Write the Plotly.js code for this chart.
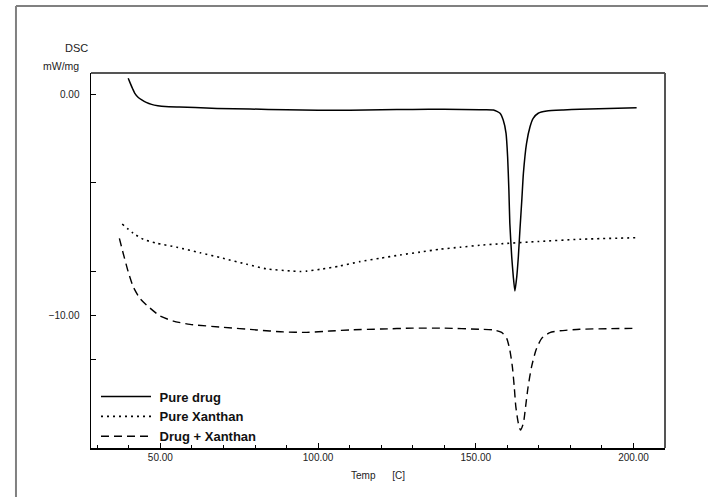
<!DOCTYPE html>
<html>
<head>
<meta charset="utf-8">
<script src="https://cdn.plot.ly/plotly-3.0.1.min.js"></script>
<style>html,body{margin:0;padding:0;background:#fff;}#chart{width:708px;height:497px;}</style>
</head>
<body>
<div id="chart"></div>
<script>
// Pure drug (solid)
const drugT = [39.8,40.5,41.2,41.9,43.0,44.1,45.5,47.2,49.2,51.5,56.0,61.0,68.0,78.4,90,100,110,120,130,140,151.3,155.6,157.7,158.7,159.6,160.1,160.5,160.8,161.4,161.9,162.4,163.0,163.5,164.0,164.6,165.1,166.1,167.2,168.2,169.8,172.5,177.7,183.0,201.0];
const drugV = [0.72,0.48,0.25,0.04,-0.15,-0.26,-0.37,-0.46,-0.52,-0.56,-0.58,-0.60,-0.64,-0.67,-0.70,-0.72,-0.72,-0.70,-0.69,-0.68,-0.70,-0.71,-0.86,-1.17,-1.77,-2.83,-4.33,-5.84,-7.35,-8.25,-8.90,-8.25,-7.35,-6.14,-4.78,-3.58,-2.22,-1.47,-1.09,-0.86,-0.76,-0.71,-0.68,-0.61];
// Pure Xanthan (dotted)
const xanT = [37.9,41.4,44.6,48.8,55.2,62.6,69.9,77.4,83.7,91.1,94.3,96.4,100.6,106.9,113.3,119.6,126.0,132.3,138.7,145.0,151.3,157.1,170,183.0,201.0];
const xanV = [-5.87,-6.29,-6.56,-6.74,-6.92,-7.17,-7.42,-7.69,-7.90,-7.99,-8.02,-8.00,-7.92,-7.77,-7.57,-7.42,-7.27,-7.14,-7.01,-6.92,-6.83,-6.77,-6.66,-6.56,-6.49];
// Drug + Xanthan (dashed)
const mixT = [37.0,38.2,39.8,41.4,43.5,46.2,49.9,54.1,59.4,69.9,80.5,89.0,96.4,103.8,110.1,120,130,140,151.3,155.6,158.2,159.8,160.8,161.6,162.2,162.7,163.5,164.2,165.1,165.8,166.6,167.7,169.1,170.9,173.5,176.7,183.0,201.0];
const mixV = [-6.52,-7.19,-8.03,-8.71,-9.23,-9.61,-10.03,-10.26,-10.41,-10.54,-10.66,-10.75,-10.77,-10.71,-10.66,-10.62,-10.58,-10.58,-10.63,-10.66,-10.77,-11.04,-11.57,-12.32,-13.23,-14.13,-14.88,-15.19,-14.88,-14.13,-13.23,-12.32,-11.57,-11.04,-10.78,-10.70,-10.63,-10.59];

const names = ['Pure drug','Pure Xanthan','Drug + Xanthan'];
const xTicks = [50,100,150,200];
const yTicks = [0,-10];

const FONT = 'Liberation Sans, Arial, sans-serif';

const traces = [
  {x: drugT, y: drugV, name: '&nbsp;' + names[0], mode: 'lines', line: {color: '#000', width: 1.5, shape: 'spline', smoothing: 0.5}},
  {x: xanT, y: xanV, name: '&nbsp;' + names[1], mode: 'lines', line: {color: '#000', width: 1.6, dash: '2px,4px', shape: 'spline', smoothing: 0.6}},
  {x: mixT, y: mixV, name: '&nbsp;' + names[2], mode: 'lines', line: {color: '#000', width: 1.4, dash: '8px,5px', shape: 'spline', smoothing: 0.6}}
];

const layout = {
  width: 708, height: 497,
  margin: {l: 91, r: 43, t: 73, b: 49, pad: 0},
  paper_bgcolor: '#fff', plot_bgcolor: '#fff',
  font: {family: FONT, color: '#222', size: 10},
  showlegend: true,
  legend: {x: 0.0087, y: -0.0093, xanchor: 'left', yanchor: 'bottom', bgcolor: 'rgba(0,0,0,0)', borderwidth: 0,
           font: {family: FONT, size: 13, color: '#111', weight: 'bold'}, itemwidth: 50, tracegroupgap: 0},
  xaxis: {range: [28, 210], tickvals: xTicks, tickformat: '.2f', ticks: 'inside', ticklen: 5, tickwidth: 1, tickcolor: '#000',
          showline: true, linecolor: '#000', linewidth: 1.5, showgrid: false, zeroline: false,
          minor: {dtick: 10, tick0: 0, ticks: 'inside', ticklen: 3, tickcolor: '#000', showgrid: false},
          tickfont: {family: FONT, size: 10, color: '#222'}, ticklabelstandoff: -1,
          title: {text: 'Temp&nbsp;&nbsp;&nbsp;&nbsp;&nbsp;&nbsp;[C]', font: {family: FONT, size: 10, color: '#222'}, standoff: 10}},
  yaxis: {range: [-16, 0.96], tickvals: yTicks, tickformat: '.2f', ticks: 'inside', ticklen: 5, tickwidth: 1, tickcolor: '#000',
          showline: true, linecolor: '#000', linewidth: 1.5, showgrid: false, zeroline: false,
          minor: {dtick: 4, tick0: 0, ticks: 'inside', ticklen: 5, tickcolor: '#000', showgrid: false},
          tickfont: {family: FONT, size: 10, color: '#222'}, ticklabelstandoff: 8},
  shapes: [
    {type: 'line', xref: 'paper', yref: 'paper', x0: 0, x1: 1, y0: 1, y1: 1, line: {color: '#555', width: 2}},
    {type: 'line', xref: 'paper', yref: 'paper', x0: 1, x1: 1, y0: 0, y1: 1, line: {color: '#555', width: 2}},
    {type: 'line', xref: 'paper', yref: 'paper', x0: -0.1307, x1: -0.1307, y0: -1, y1: 1.1787, line: {color: '#808080', width: 2}},
    {type: 'line', xref: 'paper', yref: 'paper', x0: -0.1307, x1: 2, y0: 1.1787, y1: 1.1787, line: {color: '#808080', width: 2}}
  ],
  annotations: [
    {text: 'DSC', xref: 'paper', yref: 'paper', x: -0.0244, y: 1.0667, xanchor: 'center', yanchor: 'middle', showarrow: false, font: {family: FONT, size: 11, color: '#222'}},
    {text: 'mW/mg', xref: 'paper', yref: 'paper', x: -0.0523, y: 1.0187, xanchor: 'center', yanchor: 'middle', showarrow: false, font: {family: FONT, size: 10.5, color: '#222'}}
  ]
};

Plotly.newPlot('chart', traces, layout, {displayModeBar: false, staticPlot: true});
</script>
</body>
</html>
